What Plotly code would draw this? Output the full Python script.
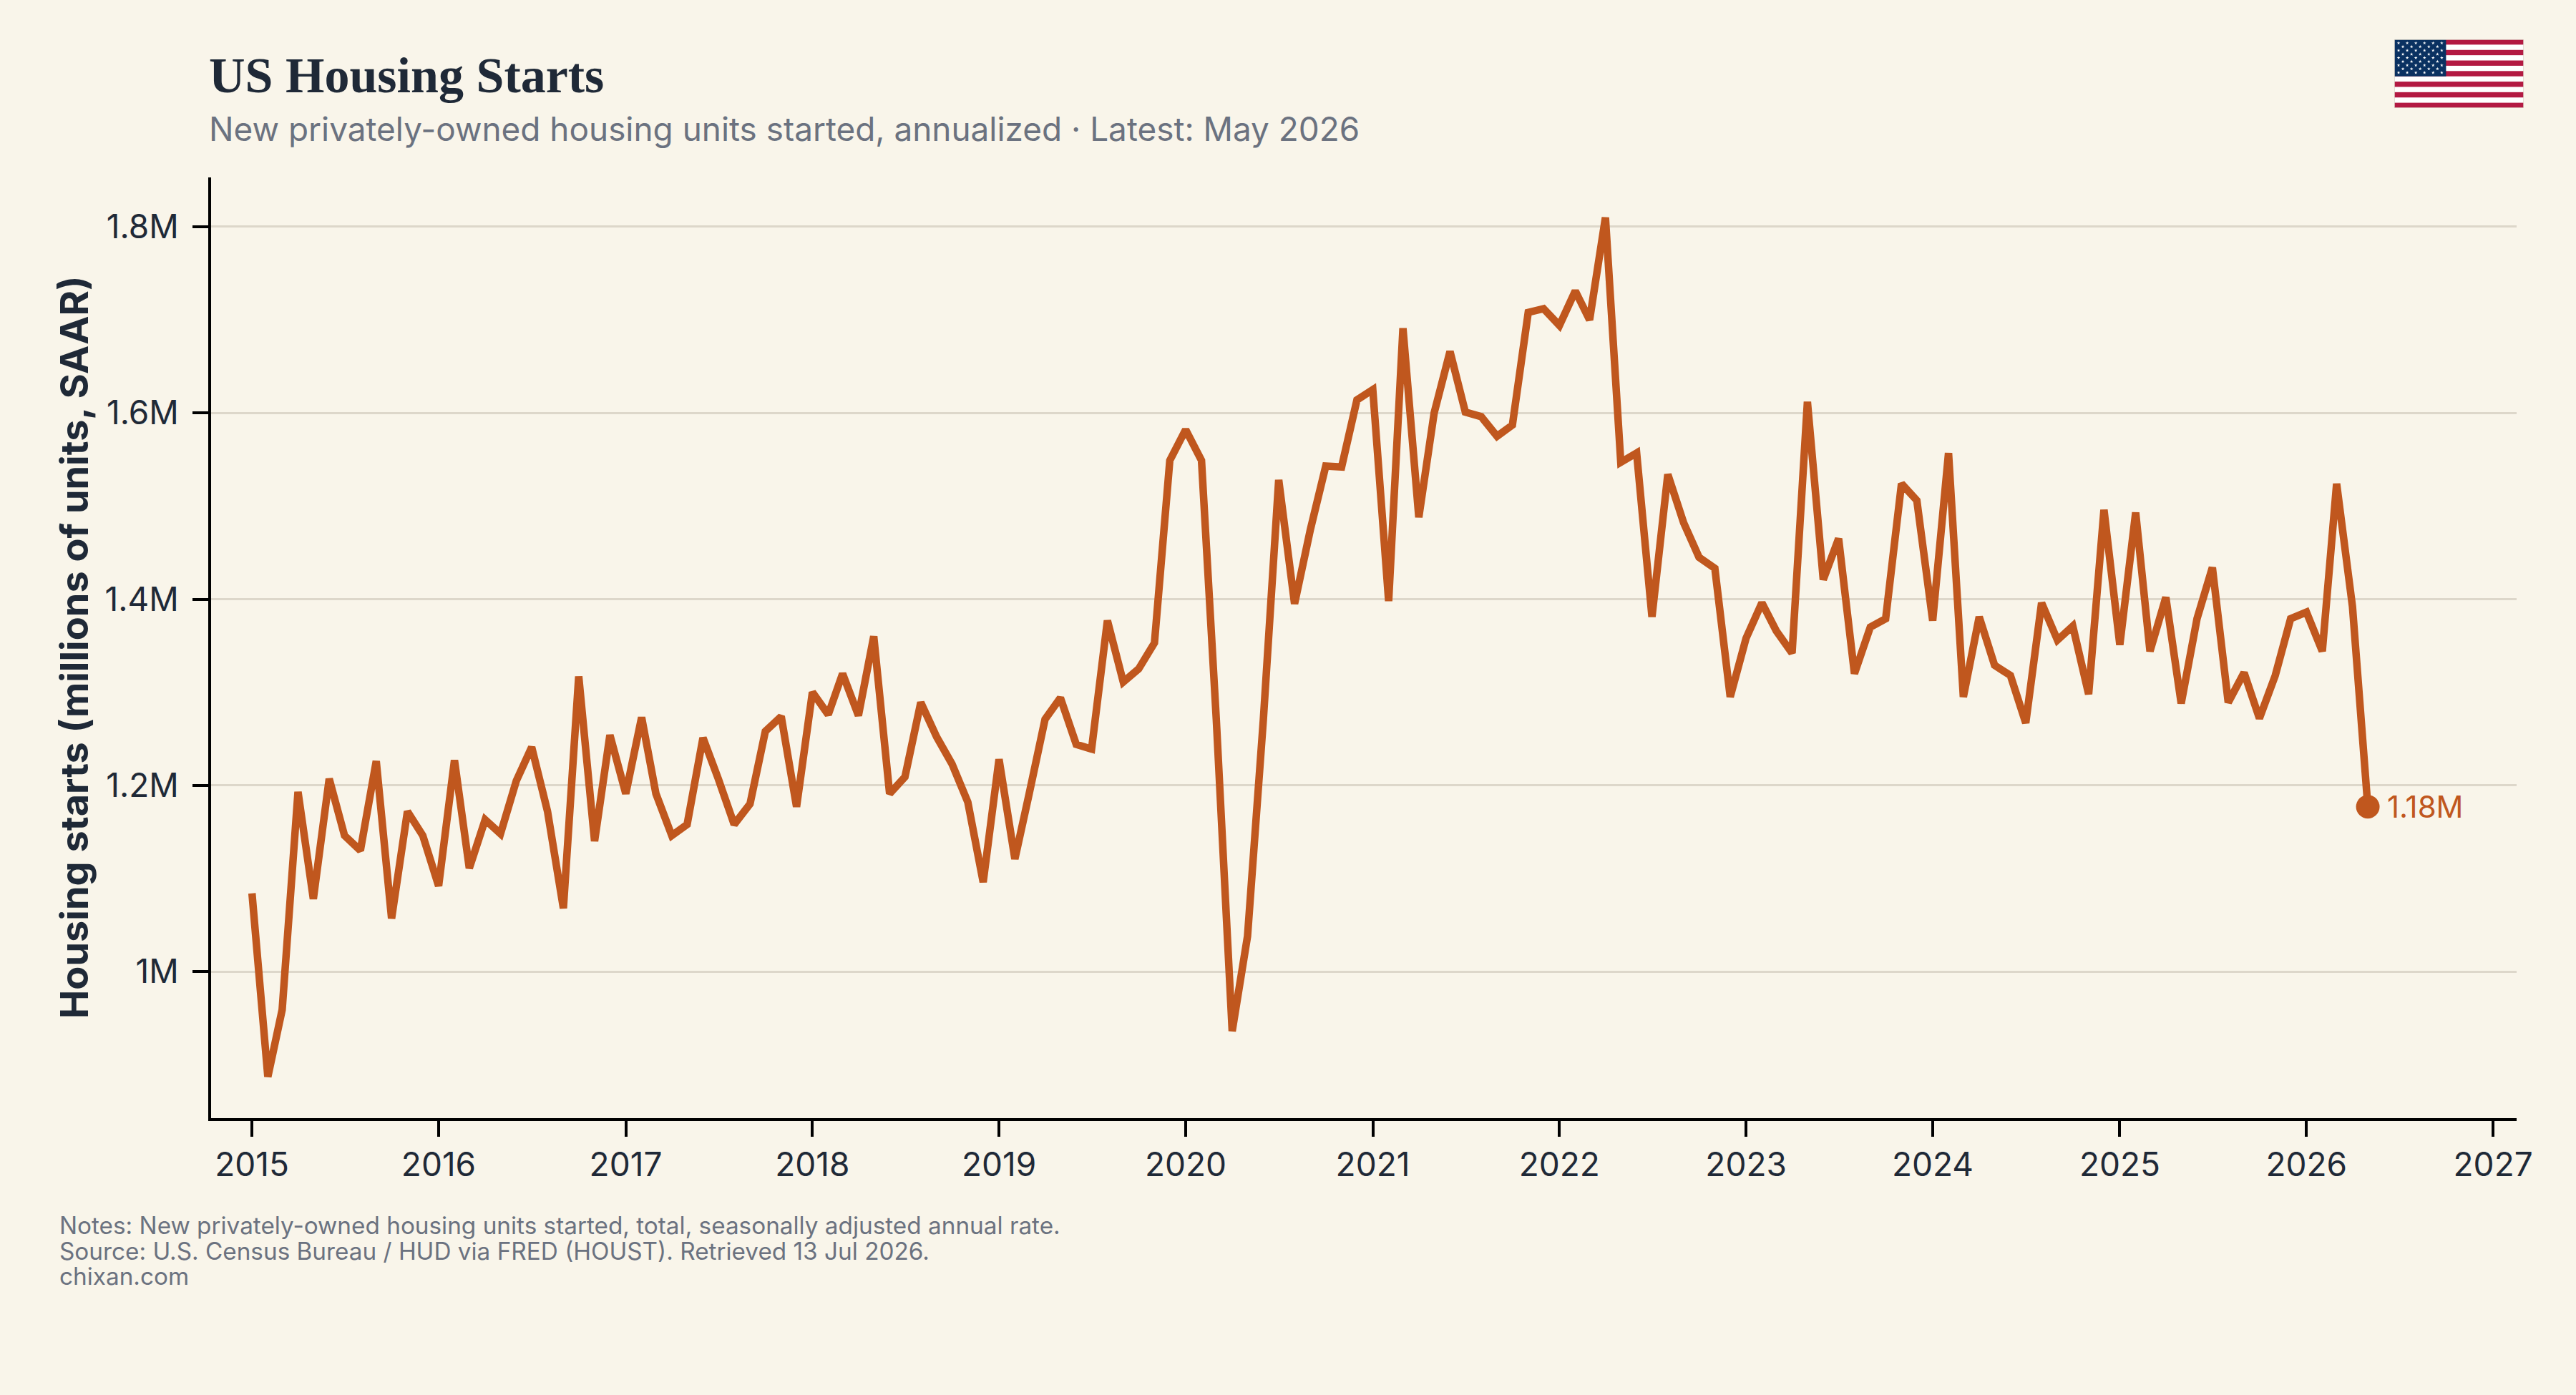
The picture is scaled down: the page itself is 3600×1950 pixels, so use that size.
import base64
import math
import pandas as pd
import plotly.graph_objects as go

# Monthly housing starts, millions of units (SAAR), Jan 2015 to May 2026
starts_2015 = [1.084, 0.887, 0.959, 1.193, 1.078, 1.207, 1.146, 1.130, 1.226, 1.057, 1.172, 1.146]
starts_2016 = [1.092, 1.227, 1.111, 1.163, 1.148, 1.205, 1.241, 1.172, 1.068, 1.317, 1.140, 1.254]
starts_2017 = [1.191, 1.273, 1.191, 1.146, 1.158, 1.251, 1.207, 1.158, 1.180, 1.258, 1.274, 1.177]
starts_2018 = [1.300, 1.276, 1.320, 1.275, 1.360, 1.191, 1.209, 1.289, 1.252, 1.223, 1.182, 1.096]
starts_2019 = [1.228, 1.121, 1.191, 1.271, 1.294, 1.244, 1.239, 1.377, 1.311, 1.325, 1.353, 1.549]
starts_2020 = [1.582, 1.549, 1.270, 0.936, 1.038, 1.271, 1.528, 1.395, 1.475, 1.543, 1.542, 1.614]
starts_2021 = [1.625, 1.398, 1.691, 1.488, 1.600, 1.666, 1.601, 1.596, 1.575, 1.587, 1.708, 1.712]
starts_2022 = [1.694, 1.731, 1.700, 1.810, 1.547, 1.557, 1.381, 1.534, 1.482, 1.445, 1.433, 1.295]
starts_2023 = [1.358, 1.396, 1.366, 1.342, 1.612, 1.421, 1.465, 1.320, 1.370, 1.379, 1.524, 1.506]
starts_2024 = [1.377, 1.557, 1.295, 1.381, 1.329, 1.318, 1.267, 1.396, 1.356, 1.371, 1.298, 1.496]
starts_2025 = [1.351, 1.493, 1.344, 1.402, 1.288, 1.379, 1.434, 1.289, 1.321, 1.272, 1.318, 1.379]
starts_2026 = [1.386, 1.344, 1.524, 1.392, 1.177]

starts = (starts_2015 + starts_2016 + starts_2017 + starts_2018 + starts_2019 + starts_2020
          + starts_2021 + starts_2022 + starts_2023 + starts_2024 + starts_2025 + starts_2026)
months = pd.date_range("2015-01-01", periods=len(starts), freq="MS")

year_ticks = [f"{y}-01-01" for y in range(2015, 2028)]
year_labels = [str(y) for y in range(2015, 2028)]
value_ticks = [1.0, 1.2, 1.4, 1.6, 1.8]
value_labels = ["1M", "1.2M", "1.4M", "1.6M", "1.8M"]

TITLE = "US Housing Starts"
SUBTITLE = "New privately-owned housing units started, annualized · Latest: May 2026"
AXIS_TITLE = "Housing starts (millions of units, SAAR)"
NOTES = [
    "Notes: New privately-owned housing units started, total, seasonally adjusted annual rate.",
    "Source: U.S. Census Bureau / HUD via FRED (HOUST). Retrieved 13 Jul 2026.",
    "chixan.com",
]

PAPER = "#F9F5EA"
INK = "#1F2937"
MUTED = "#6B7280"
RUST = "#C0571E"
GRID = "#DDD7CA"

WIDTH, HEIGHT = 3600, 1950
LEFT, RIGHT, TOP, BOTTOM = 295, 3517, 248, 1563


def star(cx, cy, r):
    """Five-pointed star as an SVG polygon."""
    pts = []
    for i in range(10):
        rad = r if i % 2 == 0 else r * 0.382
        a = -math.pi / 2 + i * math.pi / 5
        pts.append(f"{cx + rad * math.cos(a):.2f},{cy + rad * math.sin(a):.2f}")
    return f'<polygon points="{" ".join(pts)}" fill="#fff"/>'


def us_flag():
    """US flag as an inline SVG data URI."""
    w, h = 190, 100
    stripe = h / 13
    parts = [f'<svg xmlns="http://www.w3.org/2000/svg" width="{w*4}" height="{h*4}" viewBox="0 0 {w} {h}">',
             f'<rect width="{w}" height="{h}" fill="#fff"/>']
    for i in range(0, 13, 2):
        parts.append(f'<rect y="{i * stripe:.3f}" width="{w}" height="{stripe:.3f}" fill="#B31942"/>')
    canton_w, canton_h = w * 0.4, stripe * 7
    parts.append(f'<rect width="{canton_w}" height="{canton_h:.3f}" fill="#0A3161"/>')
    dx, dy = canton_w / 12, canton_h / 10
    for row in range(9):
        cols = 6 if row % 2 == 0 else 5
        for col in range(cols):
            cx = dx * (2 * col + (1 if row % 2 == 0 else 2))
            parts.append(star(cx, dy * (row + 1), 2.6))
    parts.append(f'<rect x="0.4" y="0.4" width="{w - 0.8}" height="{h - 0.8}" fill="none" stroke="#DDD7CA" stroke-width="0.8"/>')
    parts.append("</svg>")
    return "data:image/svg+xml;base64," + base64.b64encode("".join(parts).encode()).decode()


fig = go.Figure()
fig.add_trace(go.Scatter(
    x=months, y=starts, mode="lines",
    line=dict(color=RUST, width=10.5, shape="linear"),
    hoverinfo="skip", showlegend=False,
))
fig.add_trace(go.Scatter(
    x=[months[-1]], y=[starts[-1]], mode="markers",
    marker=dict(color=RUST, size=33, line=dict(width=0)),
    hoverinfo="skip", showlegend=False,
))


def px_x(x):
    return (x - LEFT) / (RIGHT - LEFT)


def px_y(y):
    return (BOTTOM - y) / (BOTTOM - TOP)


def text(s, x, y, size, color, family="Inter", weight=400, xanchor="left", angle=0, yanchor="alphabetic"):
    fig.add_annotation(
        xref="paper", yref="paper", x=px_x(x), y=px_y(y), text=s, showarrow=False,
        xanchor=xanchor, yanchor="bottom" if yanchor == "alphabetic" else yanchor,
        textangle=angle, align="left", borderpad=0, borderwidth=0,
        font=dict(family=family, size=size, color=color, weight=weight),
    )


text(TITLE, 292, 144, 70, INK, family="Liberation Serif", weight=700)
text(SUBTITLE, 292, 208, 45.9, MUTED)
text(AXIS_TITLE, 103, 905, 54, INK, weight=700, xanchor="center", angle=-90, yanchor="middle")
for line, base in zip(NOTES, [1733, 1769, 1804]):
    text(line, 83, base, 33.3, MUTED)

fig.add_annotation(
    x=months[-1], y=starts[-1], text=f"{starts[-1]:.2f}M", showarrow=False,
    xanchor="left", yanchor="middle", xshift=26, borderpad=0,
    font=dict(family="Inter", size=42, color=RUST),
)

fig.add_layout_image(
    source=us_flag(), xref="paper", yref="paper", x=px_x(3346), y=px_y(55),
    sizex=181 / (RIGHT - LEFT), sizey=96 / (BOTTOM - TOP),
    xanchor="left", yanchor="top", sizing="stretch", layer="above",
)

fig.update_layout(
    width=WIDTH, height=HEIGHT,
    margin=dict(l=LEFT, r=WIDTH - RIGHT, t=TOP, b=HEIGHT - BOTTOM, pad=0),
    paper_bgcolor=PAPER, plot_bgcolor=PAPER,
    font=dict(family="Inter", color=INK),
    hovermode=False,
)
fig.update_xaxes(
    type="date", range=["2014-10-13", "2027-02-16"],
    tickmode="array", tickvals=year_ticks, ticktext=year_labels,
    showgrid=False, zeroline=False, showline=True, linecolor="#000000", linewidth=4,
    ticks="outside", ticklen=22, tickwidth=4, tickcolor="#000000",
    tickfont=dict(family="Inter", size=46, color=INK), ticklabelstandoff=0,
)
fig.update_yaxes(
    range=[0.8425, 1.853],
    tickmode="array", tickvals=value_ticks, ticktext=value_labels,
    showgrid=True, gridcolor=GRID, gridwidth=3, zeroline=False,
    showline=True, linecolor="#000000", linewidth=4,
    ticks="outside", ticklen=22, tickwidth=4, tickcolor="#000000",
    tickfont=dict(family="Inter", size=46, color=INK), ticklabelstandoff=10,
)

fig.write_html("out.html", config=dict(displayModeBar=False))
